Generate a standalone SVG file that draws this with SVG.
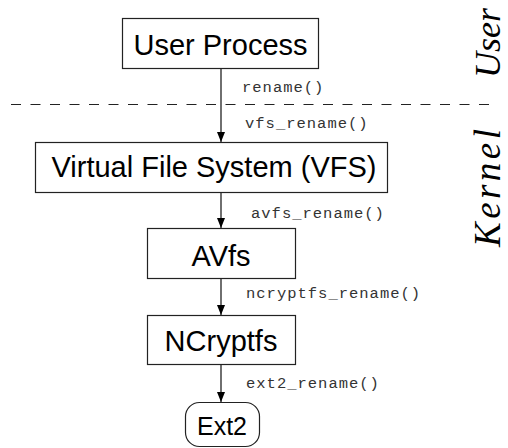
<svg xmlns="http://www.w3.org/2000/svg" width="508" height="448" viewBox="0 0 508 448">
<defs>
<style>
.box{fill:#fff;stroke:#222;stroke-width:1.2}
.lbl{font-family:"Liberation Sans",Arial,sans-serif;font-size:29px;fill:#000;text-anchor:middle}
.fn{font-family:"Liberation Mono","Courier New",monospace;font-size:15.5px;letter-spacing:1px;fill:#333}
.side{font-family:"Liberation Serif","Times New Roman",serif;font-style:italic;font-size:36px;fill:#000;text-anchor:middle}
.conn{stroke:#222;stroke-width:1.3;fill:none}
</style>
<marker id="ah" markerWidth="10" markerHeight="10" viewBox="0 0 10 10" refX="10" refY="5" orient="auto" markerUnits="userSpaceOnUse">
<path d="M0,1 L10,5 L0,9 Z" fill="#000"/>
</marker>
</defs>
<rect width="508" height="448" fill="#fff"/>
<line x1="11" y1="104.5" x2="495" y2="104.5" stroke="#222" stroke-width="1.2" stroke-dasharray="10,9.5"/>
<g id="connectors">
<line class="conn" x1="221" y1="68" x2="221" y2="142" marker-end="url(#ah)"/>
<line class="conn" x1="221" y1="192" x2="221" y2="228" marker-end="url(#ah)"/>
<line class="conn" x1="221" y1="278" x2="221" y2="315" marker-end="url(#ah)"/>
<line class="conn" x1="221" y1="364" x2="221" y2="402" marker-end="url(#ah)"/>
<text class="fn" x="242" y="92">rename()</text>
<text class="fn" x="245" y="128">vfs_rename()</text>
<text class="fn" x="251" y="218">avfs_rename()</text>
<text class="fn" x="246" y="298">ncryptfs_rename()</text>
<text class="fn" x="246" y="388">ext2_rename()</text>
</g>
<g id="user-process">
<rect class="box" x="122.5" y="18.5" width="196" height="50"/>
<text class="lbl" x="220.5" y="55">User Process</text>
</g>
<g id="vfs">
<rect class="box" x="35.5" y="142.5" width="352" height="50"/>
<text class="lbl" x="214" y="177">Virtual File System (VFS)</text>
</g>
<g id="avfs">
<rect class="box" x="147.5" y="228.5" width="148" height="50"/>
<text class="lbl" x="221" y="265.5">AVfs</text>
</g>
<g id="ncryptfs">
<rect class="box" x="147.5" y="315.5" width="148" height="49"/>
<text class="lbl" x="221" y="351">NCryptfs</text>
</g>
<g id="ext2">
<rect class="box" x="185.5" y="402.5" width="74" height="44" rx="14" ry="14"/>
<text class="lbl" x="222" y="435" style="font-size:25px">Ext2</text>
</g>
<text class="side" transform="translate(500,43) rotate(-90)">User</text>
<text class="side" transform="translate(500,188) rotate(-90)" style="font-size:37px" textLength="118" lengthAdjust="spacing">Kernel</text>
</svg>
